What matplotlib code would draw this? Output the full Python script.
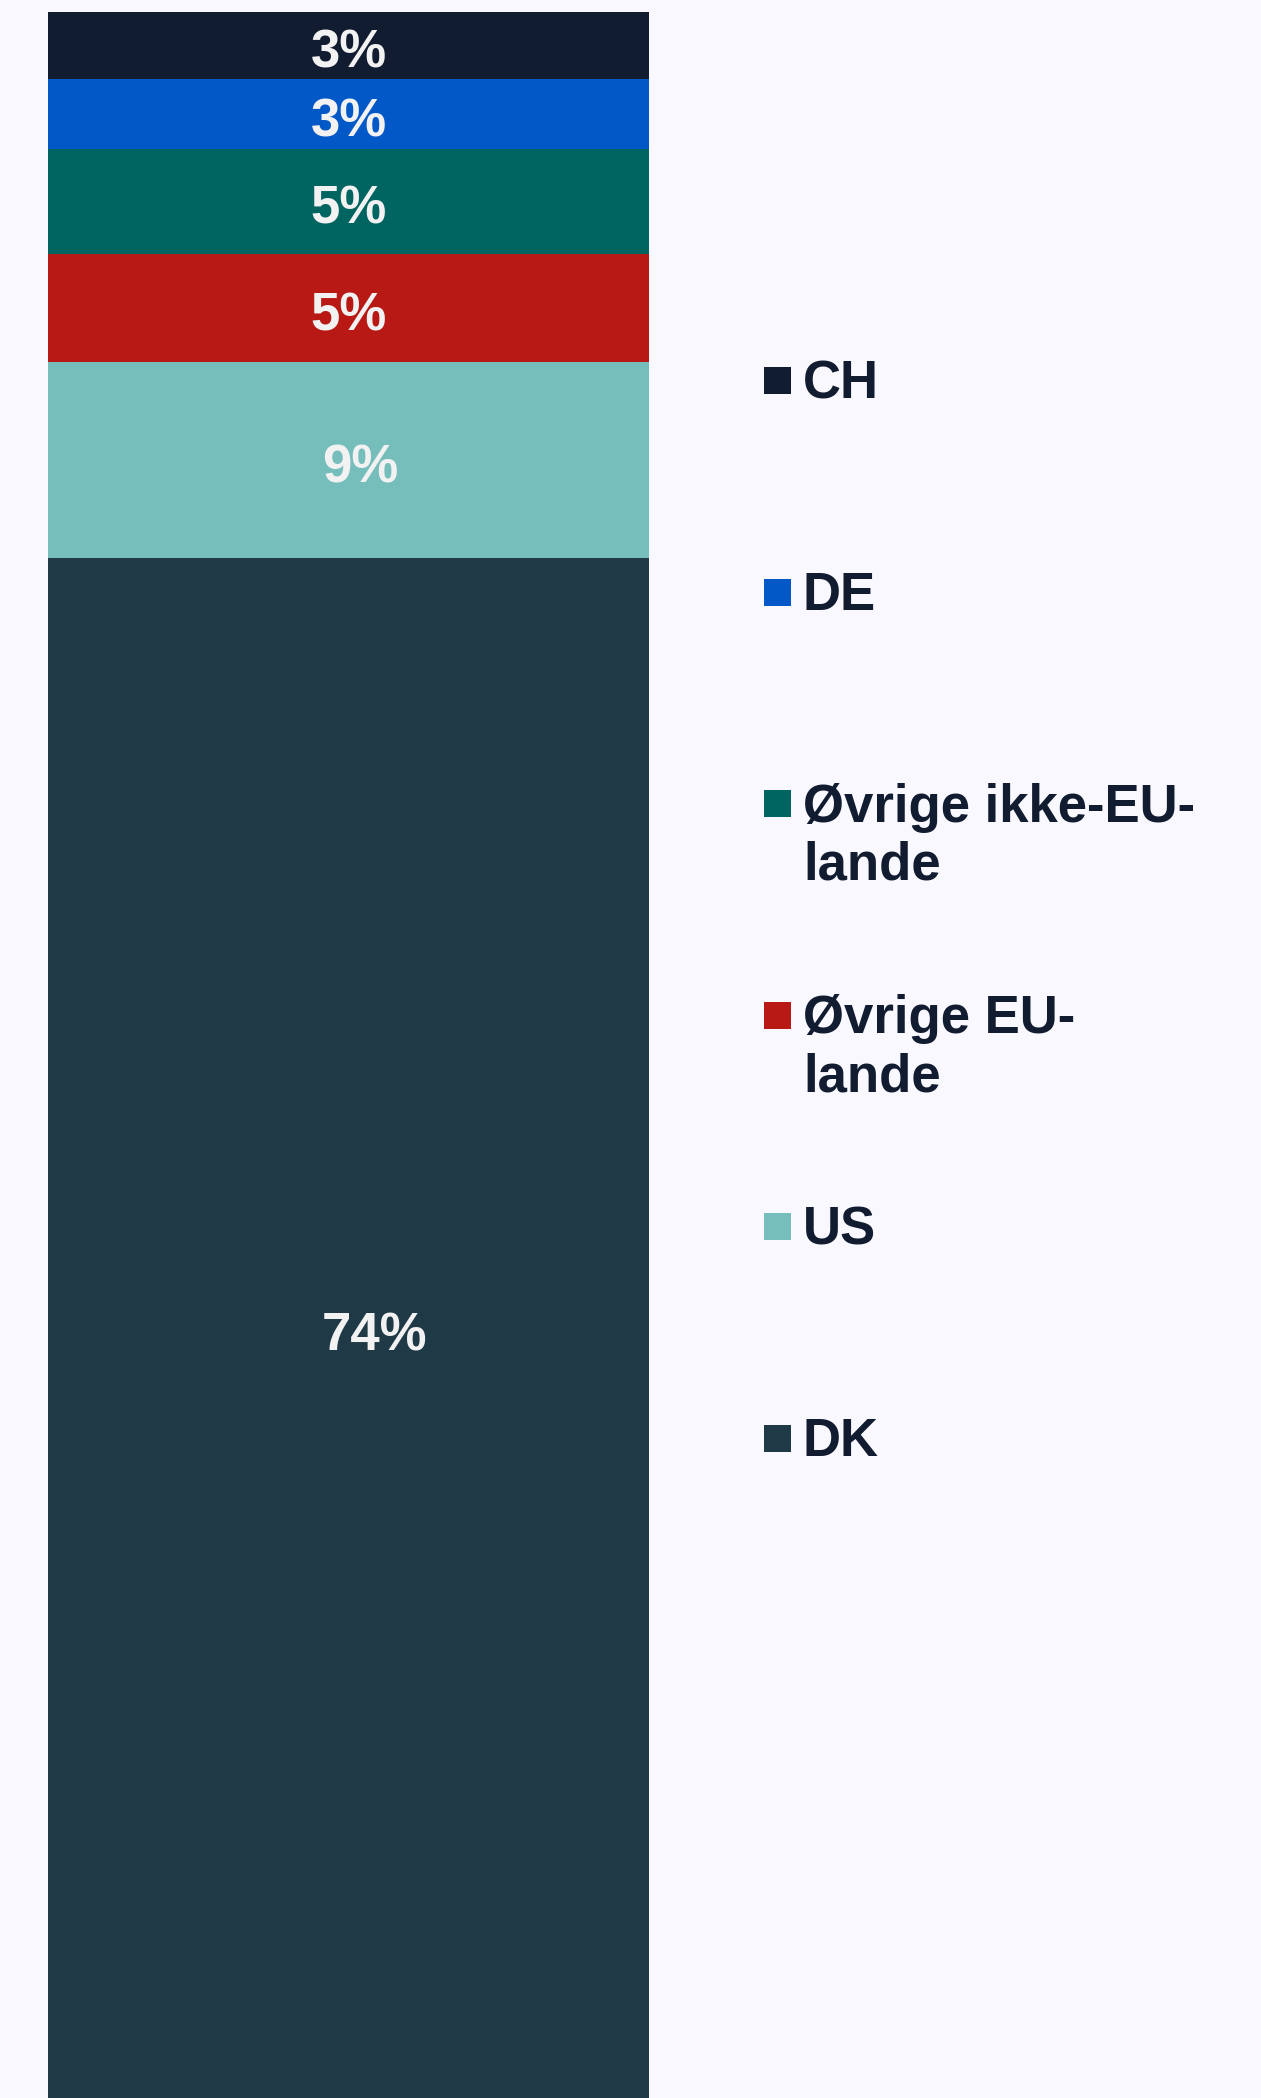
import matplotlib
matplotlib.use("Agg")
import matplotlib.pyplot as plt
from matplotlib.patches import Rectangle
from matplotlib.transforms import offset_copy

# ---- data (bottom to top of the stack) ----
categories = ["DK", "US", "Øvrige EU-lande", "Øvrige ikke-EU-lande", "DE", "CH"]
values = [73.8, 9.4, 5.2, 5.0, 3.4, 3.2]
colors = ["#1F3A46", "#76BEBC", "#B81914", "#006461", "#0358C8", "#111C30"]

# ---- style ----
BG = "#F9F8FE"
TXT = "#111C30"
LBL = "#F2F2F2"
W, H, DPI = 1261, 2098, 100
FS = 38
label_dx_px = [26, 12, 0, 0, 0, 0]  # horizontal nudges of the value labels

plt.rcParams["font.family"] = ["Liberation Sans", "DejaVu Sans"]

fig = plt.figure(figsize=(W / DPI, H / DPI), dpi=DPI, facecolor=BG)
ax = fig.add_axes([48 / W, 0, (649 - 48) / W, 1 - 11.8 / H])
ax.set_facecolor(BG)
ax.set_xlim(-0.5, 0.5)
ax.set_ylim(0, 100)
ax.axis("off")

bottom = 0.0
for cat, v, c, dx in zip(categories, values, colors, label_dx_px):
    ax.bar(0, v, width=1.0, bottom=bottom, color=c, linewidth=0)
    tr = offset_copy(ax.transData, fig=fig, x=dx, y=-22, units="dots")
    ax.text(0, bottom + v / 2, f"{v:.0f}%", ha="center", va="baseline",
            color=LBL, fontsize=FS, fontweight="bold", transform=tr)
    bottom += v

# ---- legend (top entry = top of the stack) ----
legend_top_center = 380.5
legend_step = 211.6
for i, idx in enumerate(range(len(categories) - 1, -1, -1)):
    yc = legend_top_center + i * legend_step  # pixels from top
    fig.patches.append(Rectangle((764 / W, 1 - (yc + 13.5) / H), 27 / W, 27 / H,
                                 transform=fig.transFigure, facecolor=colors[idx],
                                 edgecolor="none"))
    label = categories[idx].replace("EU-lande", "EU-\nlande")
    fig.text(803 / W, 1 - (yc - 21) / H, label, ha="left", va="top",
             color=TXT, fontsize=FS, fontweight="bold", linespacing=1.2)

fig.savefig("out.png", dpi=DPI, facecolor=BG)
